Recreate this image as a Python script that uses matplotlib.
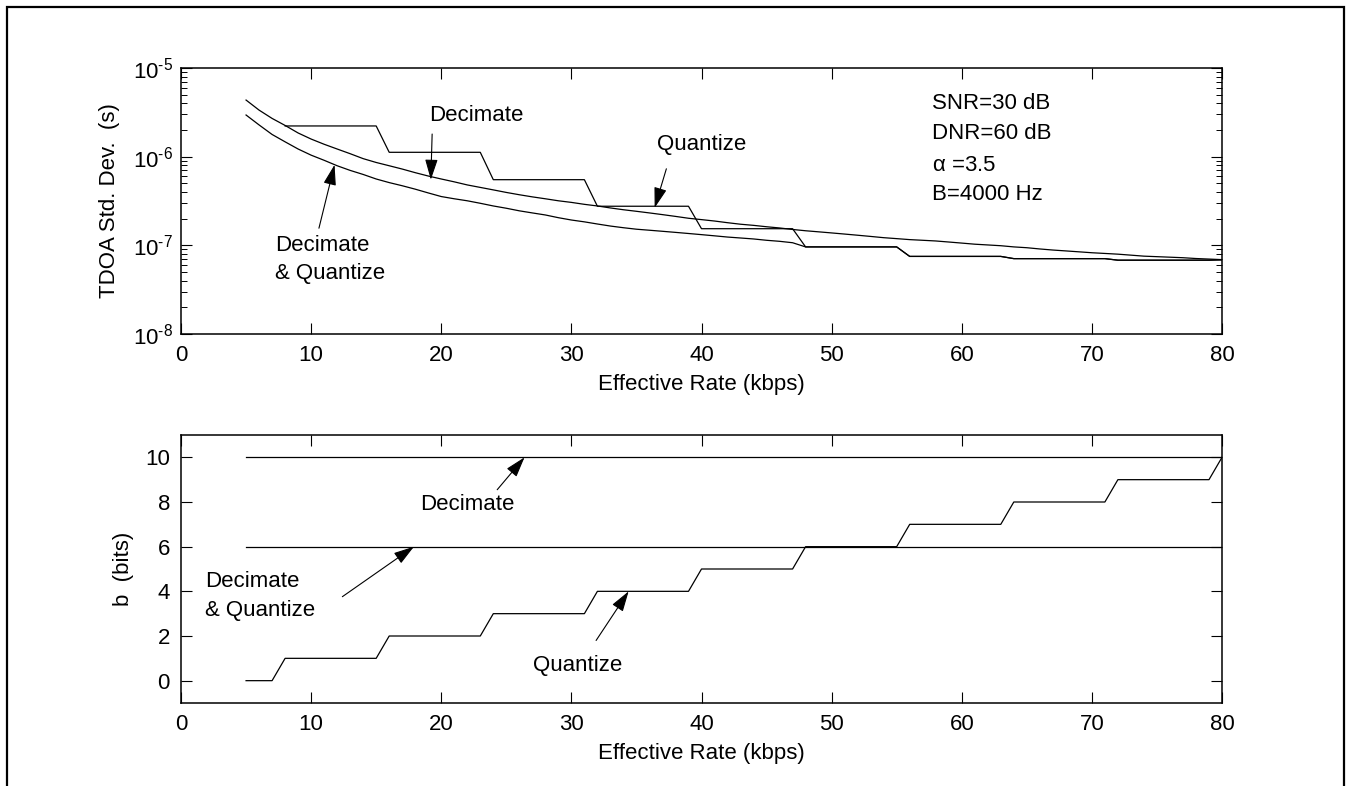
import math
import matplotlib
matplotlib.use("Agg")
import matplotlib.pyplot as plt
from matplotlib.ticker import LogLocator, FixedLocator, NullFormatter, FuncFormatter
from matplotlib.patches import Rectangle

plt.rcParams['font.family'] = ['Liberation Sans', 'DejaVu Sans']
plt.rcParams['mathtext.fontset'] = 'custom'
plt.rcParams['mathtext.rm'] = 'Liberation Sans'
plt.rcParams['mathtext.it'] = 'Liberation Sans:italic'
plt.rcParams['mathtext.default'] = 'regular'

# ---------------- data ----------------
rate = [5, 6, 7, 8, 9, 10, 11, 12, 13, 14, 15, 16, 17, 18, 19, 20,
        21, 22, 23, 24, 25, 26, 27, 28, 29, 30, 31, 32, 33, 34, 35, 36,
        37, 38, 39, 40, 41, 42, 43, 44, 45, 46, 47, 48, 49, 50, 51, 52,
        53, 54, 55, 56, 57, 58, 59, 60, 61, 62, 63, 64, 65, 66, 67, 68,
        69, 70, 71, 72, 73, 74, 75, 76, 77, 78, 79, 80]

tdoa_decimate = [4.35e-6, 3.35e-6, 2.70e-6, 2.25e-6, 1.85e-6, 1.58e-6, 1.38e-6, 1.22e-6,
                 1.08e-6, 9.5e-7, 8.6e-7, 7.9e-7, 7.25e-7, 6.6e-7, 6.05e-7, 5.6e-7,
                 5.2e-7, 4.8e-7, 4.5e-7, 4.22e-7, 3.95e-7, 3.72e-7, 3.52e-7, 3.35e-7,
                 3.18e-7, 3.05e-7, 2.9e-7, 2.78e-7, 2.64e-7, 2.52e-7, 2.42e-7, 2.32e-7,
                 2.22e-7, 2.12e-7, 2.02e-7, 1.95e-7, 1.88e-7, 1.80e-7, 1.73e-7, 1.68e-7,
                 1.62e-7, 1.57e-7, 1.51e-7, 1.46e-7, 1.42e-7, 1.38e-7, 1.34e-7, 1.30e-7,
                 1.26e-7, 1.22e-7, 1.19e-7, 1.16e-7, 1.14e-7, 1.12e-7, 1.09e-7, 1.06e-7,
                 1.03e-7, 1.01e-7, 9.9e-8, 9.6e-8, 9.4e-8, 9.1e-8, 8.85e-8, 8.65e-8,
                 8.45e-8, 8.25e-8, 8.1e-8, 7.95e-8, 7.75e-8, 7.55e-8, 7.45e-8, 7.35e-8,
                 7.25e-8, 7.1e-8, 7.0e-8, 6.9e-8]

quant_rate = rate[3:]
tdoa_quantize = [2.22e-6, 2.22e-6, 2.22e-6, 2.22e-6, 2.22e-6, 2.22e-6, 2.22e-6, 2.22e-6,
                 1.12e-6, 1.12e-6, 1.12e-6, 1.12e-6, 1.12e-6, 1.12e-6, 1.12e-6, 1.12e-6,
                 5.5e-7, 5.5e-7, 5.5e-7, 5.5e-7, 5.5e-7, 5.5e-7, 5.5e-7, 5.5e-7,
                 2.76e-7, 2.76e-7, 2.76e-7, 2.76e-7, 2.76e-7, 2.76e-7, 2.76e-7, 2.76e-7,
                 1.54e-7, 1.54e-7, 1.54e-7, 1.54e-7, 1.54e-7, 1.54e-7, 1.54e-7, 1.54e-7,
                 9.6e-8, 9.6e-8, 9.6e-8, 9.6e-8, 9.6e-8, 9.6e-8, 9.6e-8, 9.6e-8,
                 7.5e-8, 7.5e-8, 7.5e-8, 7.5e-8, 7.5e-8, 7.5e-8, 7.5e-8, 7.5e-8,
                 7.08e-8, 7.08e-8, 7.08e-8, 7.08e-8, 7.08e-8, 7.08e-8, 7.08e-8, 7.08e-8,
                 6.8e-8, 6.8e-8, 6.8e-8, 6.8e-8, 6.8e-8, 6.8e-8, 6.8e-8, 6.8e-8,
                 6.9e-8]

tdoa_dec_quant = [2.95e-6, 2.28e-6, 1.78e-6, 1.47e-6, 1.22e-6, 1.04e-6, 9.1e-7, 7.9e-7,
                  7.0e-7, 6.3e-7, 5.6e-7, 5.1e-7, 4.7e-7, 4.3e-7, 3.9e-7, 3.55e-7,
                  3.35e-7, 3.18e-7, 2.98e-7, 2.78e-7, 2.62e-7, 2.45e-7, 2.32e-7, 2.2e-7,
                  2.05e-7, 1.93e-7, 1.84e-7, 1.74e-7, 1.65e-7, 1.58e-7, 1.52e-7, 1.48e-7,
                  1.44e-7, 1.40e-7, 1.36e-7, 1.32e-7, 1.28e-7, 1.24e-7, 1.21e-7, 1.18e-7,
                  1.14e-7, 1.11e-7, 1.07e-7, 9.6e-8, 9.6e-8, 9.6e-8, 9.6e-8, 9.6e-8,
                  9.6e-8, 9.6e-8, 9.6e-8, 7.5e-8, 7.5e-8, 7.5e-8, 7.5e-8, 7.5e-8,
                  7.5e-8, 7.5e-8, 7.5e-8, 7.08e-8, 7.08e-8, 7.08e-8, 7.08e-8, 7.08e-8,
                  7.08e-8, 7.08e-8, 7.08e-8, 6.8e-8, 6.8e-8, 6.8e-8, 6.8e-8, 6.8e-8,
                  6.8e-8, 6.8e-8, 6.8e-8, 6.85e-8]

bits_decimate_value = 10
bits_dec_quant_value = 6
bits_decimate = [bits_decimate_value] * len(rate)
bits_dec_quant = [bits_dec_quant_value] * len(rate)
bits_quantize = [0, 0, 0,
                 1, 1, 1, 1, 1, 1, 1, 1,
                 2, 2, 2, 2, 2, 2, 2, 2,
                 3, 3, 3, 3, 3, 3, 3, 3,
                 4, 4, 4, 4, 4, 4, 4, 4,
                 5, 5, 5, 5, 5, 5, 5, 5,
                 6, 6, 6, 6, 6, 6, 6, 6,
                 7, 7, 7, 7, 7, 7, 7, 7,
                 8, 8, 8, 8, 8, 8, 8, 8,
                 9, 9, 9, 9, 9, 9, 9, 9,
                 10]

x_ticks = [0, 10, 20, 30, 40, 50, 60, 70, 80]
b_ticks = [0, 2, 4, 6, 8, 10]
params_text = ["SNR=30 dB", "DNR=60 dB", r"$\alpha$ =3.5", "B=4000 Hz"]

# ---------------- figure ----------------
W, H = 1354, 786
fig = plt.figure(figsize=(W / 100, H / 100), dpi=100)
fig.patch.set_facecolor('white')

# outer border (bottom edge cut off in reference)
fig.add_artist(Rectangle((7 / W, -0.05), (1344 - 7) / W, 1.05 - 7.5 / H,
                         transform=fig.transFigure, fill=False,
                         edgecolor='black', linewidth=1.6))

def pos(l, t, r, b):
    return [l / W, 1 - b / H, (r - l) / W, (b - t) / H]

ax1 = fig.add_axes(pos(181, 68, 1222, 334))
ax2 = fig.add_axes(pos(181, 435, 1222, 703))

FS = 16
LW = 0.9

def style(ax):
    for s in ax.spines.values():
        s.set_linewidth(1.1)
        s.set_color('black')
    ax.tick_params(which='major', direction='in', length=8, width=0.8,
                   top=True, right=True, labelsize=FS, pad=8, colors='black')
    ax.tick_params(which='minor', direction='in', length=4, width=0.7,
                   top=False, right=True)

arrow_kw = dict(arrowstyle='-|>,head_length=0.9,head_width=0.28', color='black',
                lw=0.8, mutation_scale=14, shrinkA=0, shrinkB=0)

def log_fmt(v, p):
    e = int(round(math.log10(v)))
    return r'$10^{\text{%d}}$' % e

# ---- top axes ----
ax1.set_yscale('log')
ax1.plot(rate, tdoa_decimate, color='black', lw=LW)
ax1.plot(rate, tdoa_dec_quant, color='black', lw=LW)
ax1.plot(quant_rate, tdoa_quantize, color='black', lw=LW)
ax1.set_xlim(0, 80)
ax1.set_ylim(1e-8, 1e-5)
ax1.xaxis.set_major_locator(FixedLocator(x_ticks))
ax1.yaxis.set_major_locator(LogLocator(base=10, numticks=10))
ax1.yaxis.set_minor_locator(LogLocator(base=10, subs=(2, 3, 4, 5, 6, 7, 8, 9), numticks=20))
ax1.yaxis.set_minor_formatter(NullFormatter())
ax1.yaxis.set_major_formatter(FuncFormatter(log_fmt))
style(ax1)
ax1.tick_params(axis='y', which='major', pad=6)
ax1.set_xlabel('Effective Rate (kbps)', fontsize=FS, labelpad=6)
ax1.set_ylabel('TDOA Std. Dev.  (s)', fontsize=FS, labelpad=9)

ax1.text(22.7, 2.88e-6, 'Decimate', fontsize=FS, ha='center', va='center')
ax1.annotate('', xy=(19.2, 5.5e-7), xytext=(19.3, 1.8e-6), arrowprops=arrow_kw)
ax1.text(7.2, 1.0e-7, 'Decimate', fontsize=FS, ha='left', va='center')
ax1.text(7.2, 4.8e-8, '& Quantize', fontsize=FS, ha='left', va='center')
ax1.annotate('', xy=(11.8, 8.1e-7), xytext=(10.6, 1.56e-7), arrowprops=arrow_kw)
ax1.text(40.0, 1.37e-6, 'Quantize', fontsize=FS, ha='center', va='center')
ax1.annotate('', xy=(36.4, 2.65e-7), xytext=(37.3, 7.3e-7), arrowprops=arrow_kw)
for txt, yv in zip(params_text, [3.96e-6, 1.82e-6, 7.98e-7, 3.73e-7]):
    ax1.text(57.7, yv, txt, fontsize=FS, ha='left', va='center')

# ---- bottom axes ----
ax2.plot(rate, bits_decimate, color='black', lw=LW)
ax2.plot(rate, bits_dec_quant, color='black', lw=LW)
ax2.plot(rate, bits_quantize, color='black', lw=LW)
ax2.set_xlim(0, 80)
ax2.set_ylim(-1, 11)
ax2.xaxis.set_major_locator(FixedLocator(x_ticks))
ax2.yaxis.set_major_locator(FixedLocator(b_ticks))
style(ax2)
ax2.set_xlabel('Effective Rate (kbps)', fontsize=FS, labelpad=6)
ax2.set_ylabel('b  (bits)', fontsize=FS, labelpad=8)

ax2.text(22.0, 7.87, 'Decimate', fontsize=FS, ha='center', va='center')
ax2.annotate('', xy=(26.4, 10.0), xytext=(24.3, 8.55), arrowprops=arrow_kw)
ax2.text(1.85, 4.46, 'Decimate', fontsize=FS, ha='left', va='center')
ax2.text(1.85, 3.16, '& Quantize', fontsize=FS, ha='left', va='center')
ax2.annotate('', xy=(17.9, 6.0), xytext=(12.4, 3.76), arrowprops=arrow_kw)
ax2.text(30.5, 0.7, 'Quantize', fontsize=FS, ha='center', va='center')
ax2.annotate('', xy=(34.4, 4.0), xytext=(31.9, 1.8), arrowprops=arrow_kw)

fig.savefig('out.png', dpi=100, facecolor='white')
